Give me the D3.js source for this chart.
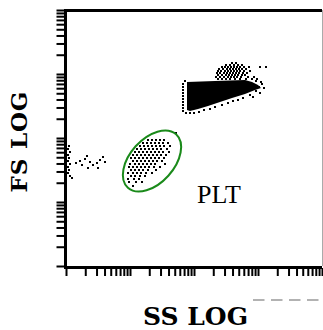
<!DOCTYPE html>
<html>
<head>
<meta charset="utf-8">
<script src="https://cdn.jsdelivr.net/npm/d3@7"></script>
<style>
  html, body { margin: 0; padding: 0; background: #fff; }
  svg { display: block; }
</style>
</head>
<body>
<div id="chart"></div>
<script>
// Values are instrument channels: 256 channels span 4 log decades (1 .. 10^4)
const CHANNELS = 256;
const DECADES = [1, 10, 100, 1000];
const AXIS_MAX = 10000;
const X_TITLE = "SS LOG";
const Y_TITLE = "FS LOG";
const GATE_LABEL = "PLT";

// PLT gate ellipse: centre (ss, fs), radii (channels), tilt in degrees
const pltGateCentre = [86, 105];
const pltGateRadii = [36, 22];
const pltGateTilt = 48;
const pltLabelPos = [131, 63];

// PLT events, per FS channel row: [fs, [ss, ...]]
const pltRows = [
  [133, [110]],
  [126, [82, 86, 90, 94, 98]],
  [123, [77, 81, 85, 89, 93, 97, 102]],
  [120, [74, 78, 82, 86, 90, 94, 98, 104]],
  [117, [71, 75, 79, 83, 87, 91, 95, 101]],
  [114, [69, 73, 77, 81, 85, 89, 93, 97, 103]],
  [111, [67, 71, 75, 79, 83, 87, 91, 95, 100]],
  [108, [65, 69, 73, 77, 81, 85, 89, 93, 98]],
  [105, [67, 71, 75, 79, 83, 87, 91, 96]],
  [102, [64, 69, 73, 77, 81, 85, 89, 99]],
  [99, [63, 67, 71, 75, 79, 83, 88, 94]],
  [96, [65, 69, 73, 77, 82, 90]],
  [93, [62, 67, 71, 75, 80, 86]],
  [90, [65, 69, 74, 79]],
  [87, [62, 68, 73]],
  [84, [63, 70, 76]],
  [80, [67]]
];

// debris near the SS origin
const debrisSS = [3, 2, 4, 2, 3, 2, 4, 2, 3, 2, 4, 6, 10, 14, 19, 21, 24, 22, 27, 31, 34, 37, 32, 39, 16];
const debrisFS = [120, 117, 114, 111, 108, 105, 102, 99, 96, 93, 90, 88, 103, 105, 107, 110, 104, 98, 101, 103, 106, 109, 98, 104, 101];

// saturated RBC population outline [ss, fs]
const rbcCore = [
  [121, 184], [149, 185], [179, 186], [186, 184], [192, 181], [195, 178],
  [189, 176], [179, 172], [166, 168], [154, 164], [142, 160], [132, 157],
  [124, 155], [121, 156]
];

// upper RBC sub-population, per FS row
const rbcUpperRows = [
  [203, [166, 170]],
  [201, [160, 164, 168, 172, 176]],
  [199, [156, 159, 162, 165, 168, 171, 174, 178, 183, 194, 200]],
  [197, [153, 157, 161, 164, 167, 170, 173, 176, 180]],
  [195, [152, 155, 159, 162, 165, 168, 171, 174, 178, 184]],
  [193, [151, 154, 158, 161, 164, 167, 170, 173, 177, 181]],
  [191, [152, 156, 160, 163, 166, 169, 172, 176, 179]],
  [189, [150, 154, 158, 162, 165, 168, 171, 175, 182, 188]],
  [187, [152, 156, 160, 164, 169, 174, 180, 186, 191]]
];

// events on the edge of the RBC population [ss, fs]
const rbcFringe = [
  [190, 185], [195, 184], [196, 182], [193, 179], [198, 178], [190, 175],
  [194, 173], [184, 171], [187, 169], [177, 168], [172, 166], [167, 165],
  [162, 163], [156, 161], [149, 159], [144, 157], [138, 156], [133, 154],
  [128, 153], [124, 153], [117, 182], [117, 179], [117, 176], [117, 173],
  [117, 170], [117, 167], [117, 164], [117, 161], [117, 158], [117, 155],
  [120, 153], [119, 185]
];

const width = 323;
const height = 330;
const plot = { left: 66, right: 322, top: 10, bottom: 266 };

const svg = d3.select("#chart")
  .append("svg")
  .attr("width", width)
  .attr("height", height);

const xLog = d3.scaleLog().domain([1, AXIS_MAX]).range([plot.left, plot.right]);
const yLog = d3.scaleLog().domain([1, AXIS_MAX]).range([plot.bottom, plot.top]);
const xCh = d3.scaleLinear().domain([0, CHANNELS]).range([plot.left, plot.right]);
const yCh = d3.scaleLinear().domain([0, CHANNELS]).range([plot.bottom, plot.top]);

const tickValues = [];
DECADES.forEach((d) => d3.range(1, 10).forEach((k) => tickValues.push(d * k)));
tickValues.push(AXIS_MAX);

const fromRows = (rows) => rows.flatMap(([fs, ssList]) => ssList.map((ss) => [ss, fs]));
const events = [
  ...fromRows(pltRows),
  ...debrisSS.map((ss, i) => [ss, debrisFS[i]]),
  ...fromRows(rbcUpperRows),
  ...rbcFringe
];

// dense core
svg.append("path")
  .datum(rbcCore)
  .attr("d", d3.line().x((d) => xCh(d[0])).y((d) => yCh(d[1])).curve(d3.curveLinearClosed))
  .attr("fill", "#000");

svg.append("g")
  .selectAll("rect")
  .data(events)
  .enter()
  .append("rect")
  .attr("x", (d) => xCh(d[0]) - 1)
  .attr("y", (d) => yCh(d[1]) - 1)
  .attr("width", 2)
  .attr("height", 2)
  .attr("fill", "#000")
  .attr("shape-rendering", "crispEdges");

// PLT gate
const gx = xCh(pltGateCentre[0]);
const gy = yCh(pltGateCentre[1]);
svg.append("ellipse")
  .attr("cx", gx)
  .attr("cy", gy)
  .attr("rx", xCh(pltGateRadii[0]) - xCh(0))
  .attr("ry", xCh(pltGateRadii[1]) - xCh(0))
  .attr("transform", `rotate(${-pltGateTilt},${gx},${gy})`)
  .attr("fill", "none")
  .attr("stroke", "#1a8a1a")
  .attr("stroke-width", 2);

svg.append("text")
  .attr("x", xCh(pltLabelPos[0]))
  .attr("y", yCh(pltLabelPos[1]))
  .style("font-family", "'Liberation Serif', serif")
  .style("font-size", "26px")
  .attr("fill", "#000")
  .text(GATE_LABEL);

// axes
const yAxis = svg.append("g")
  .attr("transform", `translate(${plot.left - 1.5},0)`)
  .call(d3.axisLeft(yLog).tickValues(tickValues).tickSize(8).tickFormat(""));
const xAxis = svg.append("g")
  .attr("transform", `translate(0,${plot.bottom + 2})`)
  .call(d3.axisBottom(xLog).tickValues(tickValues).tickSize(8).tickFormat(""));
[yAxis, xAxis].forEach((axis) => {
  axis.select(".domain").remove();
  axis.selectAll(".tick line").attr("stroke", "#000").attr("stroke-width", 2);
});

// frame
const frame = svg.append("g").attr("shape-rendering", "crispEdges");
frame.append("line")
  .attr("x1", plot.right).attr("x2", plot.right)
  .attr("y1", plot.top).attr("y2", plot.bottom)
  .attr("stroke", "#aaa").attr("stroke-width", 1);
frame.append("line")
  .attr("x1", plot.left - 2).attr("x2", plot.right)
  .attr("y1", plot.top).attr("y2", plot.top)
  .attr("stroke", "#000").attr("stroke-width", 3);
frame.append("line")
  .attr("x1", plot.left - 2).attr("x2", plot.right)
  .attr("y1", plot.bottom + 1).attr("y2", plot.bottom + 1)
  .attr("stroke", "#000").attr("stroke-width", 3);
frame.append("line")
  .attr("x1", plot.left - 0.5).attr("x2", plot.left - 0.5)
  .attr("y1", plot.top - 1).attr("y2", plot.bottom + 3)
  .attr("stroke", "#000").attr("stroke-width", 3);

// titles
svg.append("text")
  .attr("transform", `translate(27,142) rotate(-90)`)
  .attr("text-anchor", "middle")
  .attr("textLength", 101)
  .attr("lengthAdjust", "spacing")
  .style("font-family", "'DejaVu Serif', serif")
  .style("font-weight", "bold")
  .style("font-size", "23px")
  .text(Y_TITLE);

svg.append("text")
  .attr("x", 195.5)
  .attr("y", 325)
  .attr("text-anchor", "middle")
  .attr("textLength", 105)
  .attr("lengthAdjust", "spacing")
  .style("font-family", "'DejaVu Serif', serif")
  .style("font-weight", "bold")
  .style("font-size", "25px")
  .text(X_TITLE);

svg.append("line")
  .attr("x1", 253).attr("x2", 321)
  .attr("y1", 300).attr("y2", 300)
  .attr("stroke", "#999")
  .attr("stroke-width", 1.5)
  .attr("stroke-dasharray", "11.5,6.5");
</script>
</body>
</html>
